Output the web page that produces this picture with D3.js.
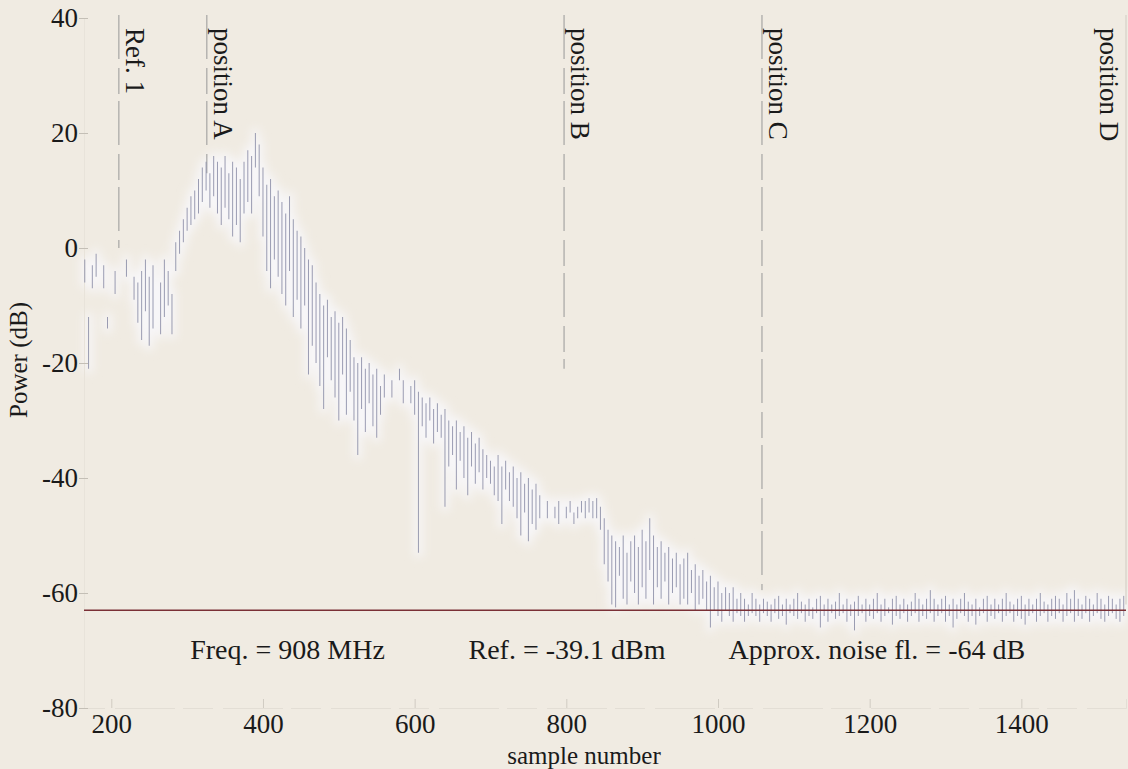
<!DOCTYPE html>
<html>
<head>
<meta charset="utf-8">
<script src="https://cdn.jsdelivr.net/npm/d3@7/dist/d3.min.js"></script>
<style>
  html, body { margin: 0; padding: 0; background: #f0ebe2; }
  svg { display: block; }
  text { font-family: "Liberation Serif", "Times New Roman", serif; fill: #1a1a1a; }
</style>
</head>
<body>
<svg id="chart" width="1128" height="769"></svg>
<script>
// ---------------- data ----------------
const sampleNo = d3.range(165, 1540, 5); // sample grid of the trace (every 5th sample)

// upper value of the trace in each 5-sample bin (dB); null = no visible trace
const hiDb = [
  -2,-12,-3,-1,null,-3,-12,null,-4,null,
  null,-2,null,-5,-6,-4,-2,-5,-3,null,
  -6,-2,-4,-8,1,3,5,7,9,10,
  12,14,15,13,16,15,14,16,13,15,
  14,12,15,17,16,20,18,14,11,12,
  9,10,8,6,9,5,3,2,0,-2,
  -3,-6,-8,-10,-9,-12,-11,-13,-12,-14,
  -16,-19,-20,-19,-21,-20,-22,-21,-24,-22,
  null,-23,null,-21,-23,null,-24,-23,-25,-26,
  -27,-26,-28,-27,-29,-28,-30,-31,-30,-32,
  -31,-33,-32,-34,-33,-35,-36,-37,-38,-36,
  -38,-37,-39,-38,-40,-39,-41,-40,-42,-41,
  -43,null,-44,null,-45,-44,null,-45,-44,-46,
  -45,-44,-44,-43.5,-44,-43.5,-45,-47,-49,-50,
  -51,-52,-50,-53,-51,-50,-52,-49,-51,-47,
  -50,-52,-51,-53,-52,-54,-53,-55,-54,-53,
  -56,-55,-57,-56,-58,-57,-59,-58,-60,-59,
  -60,-59,-61,-60,-61,-62,-60,-61,-62,-61,
  -61.5,-62,-61,-60.5,-62,-61,-62,-61,-60,-61.5,
  -62,-61,-62.5,-61,-60.5,-62,-61,-62,-61.5,-60,
  -62,-61,-62,-61.5,-60.5,-62,-61,-62,-61,-60,
  -62,-61,-62.5,-61,-60.5,-62,-61,-62,-61.5,-60,
  -61,-62,-61,-59.5,-61,-62,-61,-60.5,-62,-61,
  -62,-61,-60,-61.5,-62,-61,-62.5,-61,-60.5,-62,
  -61,-62,-61,-60,-61.5,-62,-61,-60.5,-62,-61,
  -62,-61,-60,-61.5,-62,-61,-60.5,-61,-62,-60,
  -61,-59.5,-61,-62,-60.5,-61,-62,-60,-61,-62,
  -60.5,-61,-62,-61,-60.5
];

// lower value of the trace in each 5-sample bin (dB); null = no visible trace
const loDb = [
  -6,-21,-7,-5,null,-7,-14,null,-8,null,
  null,-5,null,-9,-13,-16,-11,-17,-14,null,
  -15,-12,-10,-15,-4,-1,1,3,4,5,
  6,8,10,7,9,6,4,7,5,2,
  4,1,6,8,6,14,9,2,-4,-7,
  -2,-5,-8,-10,-4,-12,-9,-14,-10,-22,
  -17,-20,-24,-28,-19,-23,-26,-30,-22,-29,
  -25,-30,-36,-28,-32,-27,-31,-33,-29,-26,
  null,-26,null,-23,-27,null,-27,-29,-53,-31,
  -33,-30,-34,-32,-33,-45,-38,-36,-42,-37,
  -40,-43,-38,-41,-39,-42,-40,-41,-43,-44,
  -48,-42,-44,-45,-47,-50,-46,-51,-48,-49,
  -47,null,-47,null,-47,-48,null,-47,-46,-48,
  -47,-46,-47,-46,-47,-47,-49,-55,-58,-62,
  -62.5,-57,-61,-62,-58,-60,-62,-59,-61,-56,
  -62,-59,-61,-58,-62,-60,-59,-62,-61,-62,
  -60,-63,-62,-61,-63,-66,-63,-64,-65,-63,
  -64,-65,-63.5,-64,-65,-64,-63.5,-64,-65,-63.5,
  -64,-65,-63.5,-64.5,-64,-65.5,-63.5,-64,-64.5,-63.5,
  -65,-64,-64.5,-63.5,-66,-64,-65,-63.5,-64.5,-64,
  -63.5,-65,-64,-66.5,-64,-63.5,-65,-64,-64.5,-63.5,
  -65,-64,-63.5,-65.5,-64,-64.5,-63.5,-65,-64,-63.5,
  -65,-64,-64.5,-63.5,-65,-64,-63.5,-65,-64,-66,
  -64.5,-63.5,-64,-65,-64,-65.5,-64,-63.5,-65,-64,
  -64.5,-63.5,-65,-64,-63.5,-65,-64,-64.5,-65.5,-64,
  -63.5,-65,-64,-63.5,-65,-64,-64.5,-63.5,-65,-64,
  -63.5,-65,-64,-64.5,-63.5,-65,-64,-63.5,-64.5,-65,
  -64,-63.5,-64.5,-65,-64
];

// vertical marker lines
const markerNames   = ["Ref. 1", "position A", "position B", "position C", "position D"];
const markerSamples = [210, 326, 797, 1058, 1494];
const markerLowDb   = [0, 13, -21, -59.5, null]; // where each dashed line stops

const noiseFloorDb = -63;
const xTicks = [200, 400, 600, 800, 1000, 1200, 1400];
const yTicks = [-80, -60, -40, -20, 0, 20, 40];

const annotations = ["Freq. = 908 MHz", "Ref. = -39.1 dBm", "Approx. noise fl. = -64 dB"];
const annotationSamples = [304, 671, 1014]; // left start of each annotation

// ---------------- chart ----------------
const svg = d3.select("#chart");
const x = d3.scaleLinear().domain([164, 1538]).range([84, 1126]);
const y = d3.scaleLinear().domain([-80, 40]).range([708, 18]);

svg.append("rect").attr("width", 1128).attr("height", 769).attr("fill", "#f0ebe2");

const defs = svg.append("defs");
defs.append("filter").attr("id", "blur").attr("x", "-20%").attr("y", "-20%")
  .attr("width", "140%").attr("height", "140%")
  .append("feGaussianBlur").attr("stdDeviation", 5);

const trace = sampleNo.map((s, i) => ({ s, hi: hiDb[i], lo: loDb[i] }))
  .filter(d => d.hi !== null && d.lo !== null);

// soft halo of the scanned trace
svg.append("g").attr("filter", "url(#blur)")
  .selectAll("line").data(trace).join("line")
  .attr("x1", d => x(d.s)).attr("x2", d => x(d.s))
  .attr("y1", d => y(d.hi) - 4).attr("y2", d => y(d.lo) + 4)
  .attr("stroke", "#f7f6f8").attr("stroke-width", 8);

const fmt = d => String(d);

// axes (faint, as in the scan)
const gx = svg.append("g").attr("transform", `translate(0,${y(-80)})`)
  .call(d3.axisBottom(x).tickValues(xTicks).tickSize(-9).tickPadding(6).tickFormat(fmt));
gx.select(".domain").attr("stroke", "#e3ded5").attr("stroke-dasharray", "30,10,60,8");
gx.selectAll(".tick line").attr("stroke", "#d0cbc2");
gx.selectAll(".tick text").attr("font-size", 27).attr("fill", "#1a1a1a")
  .style("font-family", "'Liberation Serif', serif");

const gy = svg.append("g").attr("transform", `translate(${x(164)},0)`)
  .call(d3.axisLeft(y).tickValues(yTicks).tickSize(5).tickPadding(1).tickFormat(fmt));
gy.select(".domain").attr("stroke", "#e8e3da");
gy.selectAll(".tick line").attr("stroke", "#c4bfb6").attr("x2", 4).attr("x1", -5);
gy.selectAll(".tick text").attr("font-size", 27).attr("fill", "#1a1a1a")
  .style("font-family", "'Liberation Serif', serif");

// right frame line
svg.append("line").attr("x1", x(1538)).attr("x2", x(1538)).attr("y1", y(40) - 3).attr("y2", y(-62))
  .attr("stroke", "#d6d1c8").attr("stroke-width", 1.2);

// marker dashed lines
markerSamples.forEach((s, i) => {
  if (markerLowDb[i] !== null) {
    svg.append("line")
      .attr("x1", x(s)).attr("x2", x(s))
      .attr("y1", y(40) - 3).attr("y2", y(markerLowDb[i]))
      .attr("stroke", "#979797").attr("stroke-width", 1)
      .attr("stroke-dasharray", "44,9,26,7");
  }
  svg.append("text")
    .attr("transform", `translate(${x(s) + 7},${y(40) + 10}) rotate(90)`)
    .attr("font-size", 27)
    .text(markerNames[i]);
});

// trace
svg.append("g").selectAll("line").data(trace).join("line")
  .attr("x1", d => x(d.s)).attr("x2", d => x(d.s))
  .attr("y1", d => y(d.hi)).attr("y2", d => y(d.lo))
  .attr("stroke", "#8a8ca6").attr("stroke-width", 1).attr("stroke-opacity", 0.85);

// noise floor line
svg.append("line")
  .attr("x1", x(164)).attr("x2", x(1538))
  .attr("y1", y(noiseFloorDb)).attr("y2", y(noiseFloorDb))
  .attr("stroke", "#7a3036").attr("stroke-width", 1.6);

// annotations
annotations.forEach((t, i) => {
  svg.append("text").attr("x", x(annotationSamples[i])).attr("y", 659)
    .attr("font-size", 28).text(t);
});

// axis titles
svg.append("text").attr("x", 584).attr("y", 764).attr("text-anchor", "middle")
  .attr("font-size", 25).text("sample number");
svg.append("text").attr("transform", "translate(27,360) rotate(-90)")
  .attr("text-anchor", "middle").attr("font-size", 25).text("Power (dB)");
</script>
</body>
</html>
